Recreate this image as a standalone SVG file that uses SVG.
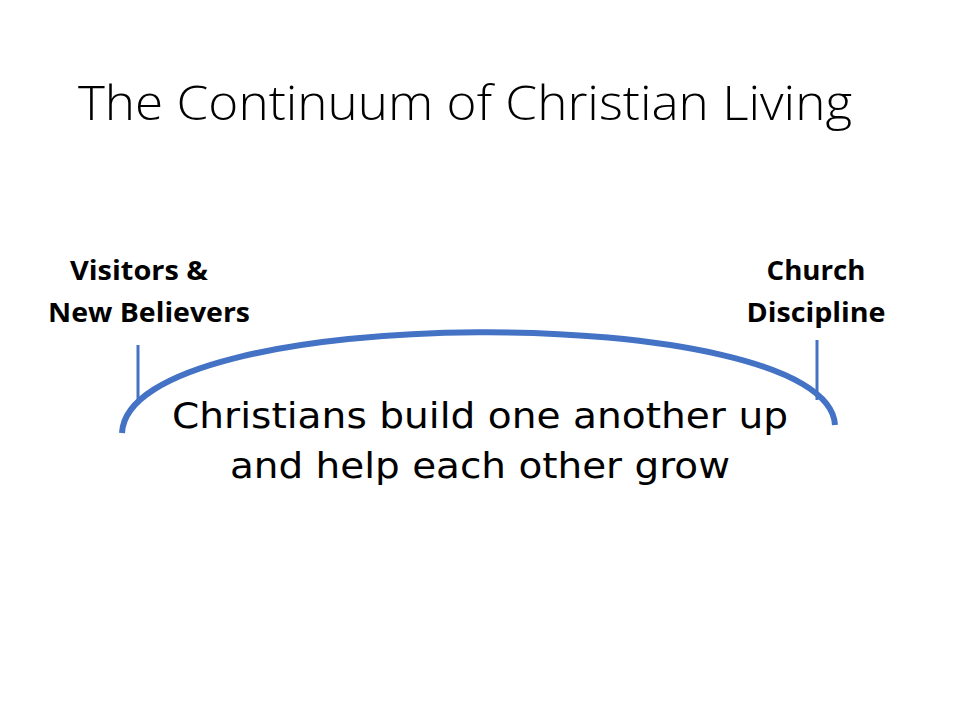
<svg xmlns="http://www.w3.org/2000/svg" width="960" height="720" viewBox="0 0 960 720">
<style>
.t{font-family:"Open Sans","Liberation Sans",sans-serif;font-weight:300}
.lab{font-family:"Open Sans","Liberation Sans",sans-serif;font-weight:bold;font-size:26px;text-anchor:middle;fill:#000}
.c{font-family:"DejaVu Sans","Liberation Sans",sans-serif;font-size:36px;text-anchor:middle;fill:#000}
.ln{stroke:#4472C4;fill:none}
</style>
<rect width="960" height="720" fill="#fff"/>
<text class="t" x="78" y="120" font-size="48" textLength="774" lengthAdjust="spacingAndGlyphs">The Continuum of Christian Living</text>
<g id="left"><text class="lab" x="139" y="280" textLength="138" lengthAdjust="spacingAndGlyphs">Visitors &amp;</text><text class="lab" x="149" y="322" textLength="202" lengthAdjust="spacingAndGlyphs">New Believers</text></g>
<g id="right"><text class="lab" x="816" y="280" textLength="99" lengthAdjust="spacingAndGlyphs">Church</text><text class="lab" x="816" y="322" textLength="139" lengthAdjust="spacingAndGlyphs">Discipline</text></g>
<g id="connectors">
<path class="ln" stroke-width="6" d="M122,433 C128,300 828,300 835,425"/>
<line class="ln" stroke-width="3" x1="138" y1="345" x2="138" y2="402"/>
<line class="ln" stroke-width="3" x1="817" y1="340" x2="817" y2="400"/>
</g>
<g id="center">
<text class="c" x="480" y="428" textLength="616" lengthAdjust="spacingAndGlyphs">Christians build one another up</text>
<text class="c" x="480" y="478" textLength="500" lengthAdjust="spacingAndGlyphs">and help each other grow</text>
</g>
</svg>
